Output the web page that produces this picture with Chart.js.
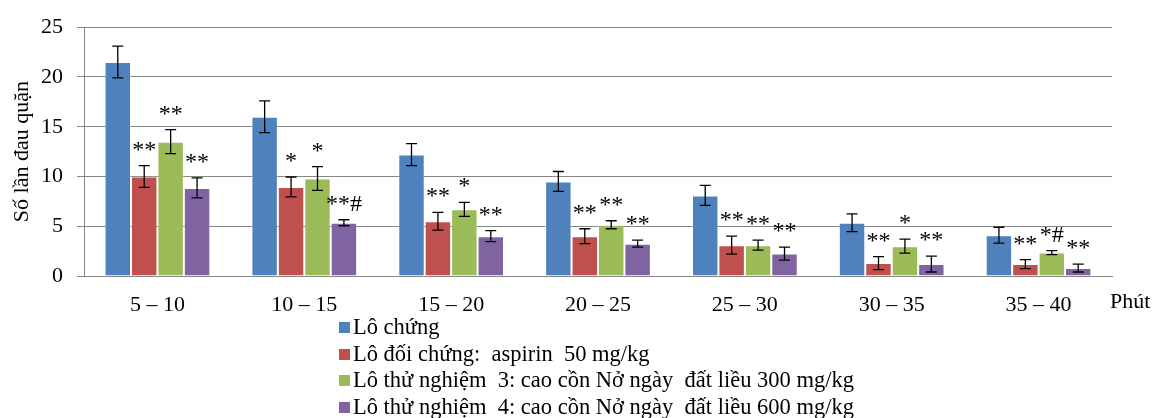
<!DOCTYPE html>
<html>
<head>
<meta charset="utf-8">
<script src="https://cdn.jsdelivr.net/npm/chart.js@4.4.1/dist/chart.umd.min.js"></script>
<style>
  html, body { margin: 0; padding: 0; background: #fff; }
  #wrap { position: relative; width: 1161px; height: 418px; }
  #legend {
    position: absolute; left: 339px; top: 314px;
    font-family: "Liberation Serif", "Times New Roman", serif;
    font-size: 22.5px; color: #000; white-space: pre;
  }
  #legend div { height: 26.5px; line-height: 26.5px; }
  #legend span.box { display: inline-block; width: 11px; height: 11px; margin-right: 3px; vertical-align: 1px; }
</style>
</head>
<body>
<div id="wrap">
  <canvas id="chart" width="1161" height="418"></canvas>
  <div id="legend"></div>
</div>
<script>
// Categories (minutes) and legend labels
const categories = ["5 – 10", "10 – 15", "15 – 20", "20 – 25", "25 – 30", "30 – 35", "35 – 40"]
const seriesNames = [
  "Lô chứng",
  "Lô đối chứng:  aspirin  50 mg/kg",
  "Lô thử nghiệm  3: cao cồn Nở ngày  đất liều 300 mg/kg",
  "Lô thử nghiệm  4: cao cồn Nở ngày  đất liều 600 mg/kg"
]
const seriesColors = ["#4F81BD", "#C0504D", "#9BBB59", "#8064A2"]

// Mean values
const control = [21.5, 16.0, 12.2, 9.5, 8.1, 5.35, 4.1]
const aspirin = [10.0, 8.95, 5.5, 4.0, 3.1, 1.3, 1.2]
const dose300 = [13.5, 9.8, 6.7, 5.15, 3.1, 3.0, 2.35]
const dose600 = [8.85, 5.35, 4.0, 3.25, 2.25, 1.2, 0.8]

// Error bar half-lengths
const controlErr = [1.6, 1.6, 1.1, 1.0, 1.0, 0.9, 0.8]
const aspirinErr = [1.1, 1.0, 0.9, 0.75, 0.9, 0.65, 0.45]
const dose300Err = [1.2, 1.2, 0.7, 0.4, 0.5, 0.7, 0.2]
const dose600Err = [1.0, 0.3, 0.55, 0.35, 0.65, 0.8, 0.4]

// Significance marks above bars
const controlMarks = ["", "", "", "", "", "", ""]
const aspirinMarks = ["**", "*", "**", "**", "**", "**", "**"]
const dose300Marks = ["**", "*", "*", "**", "**", "*", "*#"]
const dose600Marks = ["**", "**#", "**", "**", "**", "**", "**"]

const yTicks = [0, 5, 10, 15, 20, 25]

const values = [control, aspirin, dose300, dose600]
const errors = [controlErr, aspirinErr, dose300Err, dose600Err]
const marks = [controlMarks, aspirinMarks, dose300Marks, dose600Marks]

const serif = "'Liberation Serif', 'Times New Roman', serif"

// Draws error bars and significance marks
const errorBarPlugin = {
  id: "errorBars",
  afterDatasetsDraw(chart) {
    const ctx = chart.ctx
    const y = chart.scales.y
    ctx.save()
    chart.data.datasets.forEach((ds, di) => {
      const meta = chart.getDatasetMeta(di)
      meta.data.forEach((bar, i) => {
        const v = values[di][i]
        const e = errors[di][i]
        const top = y.getPixelForValue(v + e)
        const bottom = y.getPixelForValue(v - e)
        ctx.strokeStyle = "#000"
        ctx.lineWidth = 1.3
        ctx.beginPath()
        ctx.moveTo(bar.x, top)
        ctx.lineTo(bar.x, bottom)
        ctx.moveTo(bar.x - 5.5, top)
        ctx.lineTo(bar.x + 5.5, top)
        ctx.moveTo(bar.x - 5.5, bottom)
        ctx.lineTo(bar.x + 5.5, bottom)
        ctx.stroke()

        const mark = marks[di][i]
        if (mark) {
          ctx.fillStyle = "#000"
          ctx.font = "24px " + serif
          ctx.textAlign = "center"
          ctx.textBaseline = "alphabetic"
          ctx.fillText(mark, bar.x, top - 9)
        }
      })
    })

    // "Phút" label at the end of the x axis
    const area = chart.chartArea
    ctx.fillStyle = "#000"
    ctx.font = "22px " + serif
    ctx.textAlign = "left"
    ctx.textBaseline = "middle"
    ctx.fillText("Phút", area.right - 2, area.bottom + 26)
    ctx.restore()
  }
}

const chart = new Chart(document.getElementById("chart"), {
  type: "bar",
  data: {
    labels: categories,
    datasets: values.map((data, i) => ({
      label: seriesNames[i],
      data: data,
      backgroundColor: seriesColors[i],
      borderColor: "rgba(255,255,255,0.35)",
      borderWidth: 1,
      barPercentage: 1.0,
      categoryPercentage: 0.72
    }))
  },
  options: {
    responsive: false,
    animation: false,
    layout: { padding: { top: 20, right: 49, left: 0, bottom: 0 } },
    plugins: {
      legend: { display: false },
      tooltip: { enabled: false }
    },
    scales: {
      x: {
        grid: { display: false },
        border: { color: "#868686" },
        ticks: {
          color: "#000",
          font: { family: serif, size: 22 },
          padding: 8
        },
        afterFit(scale) { scale.height = 142 }
      },
      y: {
        min: 0,
        max: 25,
        afterBuildTicks(scale) { scale.ticks = yTicks.map(v => ({ value: v })) },
        grid: { color: "#868686", tickLength: 7 },
        border: { color: "#868686" },
        ticks: {
          color: "#000",
          font: { family: serif, size: 22 },
          padding: 14
        },
        title: {
          display: true,
          text: "Số lần đau quặn",
          color: "#000",
          font: { family: serif, size: 22 },
          padding: { top: 9, bottom: 0 }
        },
        afterFit(scale) { scale.width = 84 }
      }
    }
  },
  plugins: [errorBarPlugin]
})

// HTML legend, one series per line
const legend = document.getElementById("legend")
seriesNames.forEach((name, i) => {
  const row = document.createElement("div")
  const box = document.createElement("span")
  box.className = "box"
  box.style.background = seriesColors[i]
  row.appendChild(box)
  row.appendChild(document.createTextNode(name))
  legend.appendChild(row)
})
</script>
</body>
</html>
